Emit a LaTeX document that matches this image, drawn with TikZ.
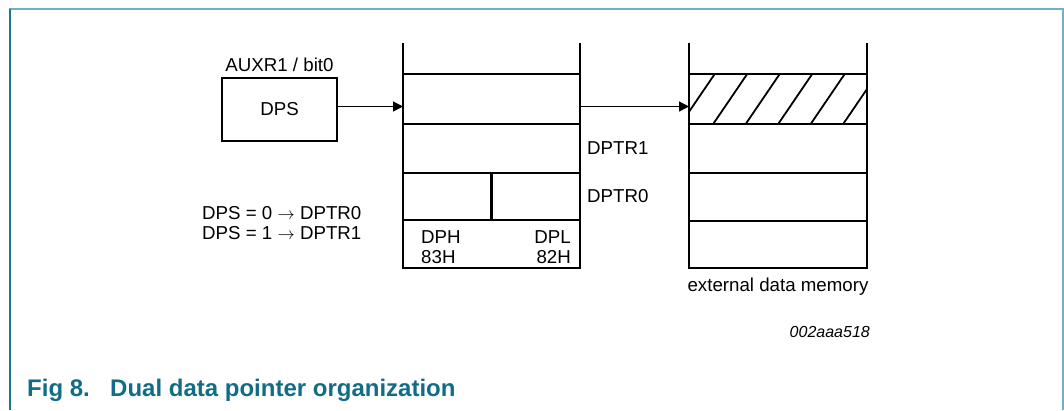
\documentclass[tikz,border=0pt]{standalone}
\usepackage{fontspec}
\setmainfont{Liberation Sans}
\definecolor{figteal}{RGB}{18, 108, 134}
\definecolor{frameteal}{RGB}{112, 178, 196}
\definecolor{edgeteal}{RGB}{30, 118, 142}
\usepackage{tikz}
\usetikzlibrary{arrows.meta, positioning}

\tikzset{
  cell/.style={draw, line width=2.2pt, minimum width=177pt, inner sep=0pt, outer sep=0pt},
  lbl/.style={font=\fontsize{18.7}{20}\selectfont, inner sep=0pt},
  ptr/.style={-{Triangle[length=10pt, width=10pt]}, line width=1.2pt}
}

\begin{document}
\begin{tikzpicture}[x=1pt, y=-1pt]
  \useasboundingbox (0,0) rectangle (1064,410);

  % Frame
  \draw[frameteal, line width=2pt] (9,9) -- (1063,9) -- (1063,410);
  \draw[edgeteal, line width=2pt] (10,9) -- (10,410);

  % === DPS selector ===
  \node[draw, line width=2pt, minimum width=115pt, minimum height=63pt, lbl] (dps) at (279.5,109.5) {DPS};
  \node[lbl, above=5pt of dps] (auxr) {AUXR1 / bit0};

  \node[lbl, anchor=west] (mode0) at (202,213) {DPS = 0 $\rightarrow$ DPTR0};
  \node[lbl, anchor=west] (mode1) at (202,233) {DPS = 1 $\rightarrow$ DPTR1};

  % === Data pointers (left column) ===
  \coordinate (ptop) at (491.5,43);
  \node[cell, minimum height=50pt] (p1) at (491.5,99) {};
  \node[cell, minimum height=49pt] (p2) at (491.5,148.5) {};
  \node[cell, minimum height=47pt] (p3) at (491.5,196.5) {};
  \node[cell, minimum height=48pt] (p4) at (491.5,244) {};
  \draw[line width=2.2pt] (p1.north west) -- (p1.north west |- ptop);
  \draw[line width=2.2pt] (p1.north east) -- (p1.north east |- ptop);
  \draw[line width=2.2pt] (p3.north) -- (p3.south);

  % Byte labels
  \node[lbl, align=left, anchor=west] (dph) at (421,247) {DPH\\83H};
  \node[lbl, align=right, anchor=east] (dpl) at (571,247) {DPL\\82H};

  \node[lbl, right=7pt of p2] (dptr1) {DPTR1};
  \node[lbl, right=7pt of p3] (dptr0) {DPTR0};

  % === External data memory (right column) ===
  \coordinate (mtop) at (778,43);
  \node[cell, minimum width=178pt, minimum height=50pt] (m1) at (778,99) {};
  \node[cell, minimum width=178pt, minimum height=49pt] (m2) at (778,148.5) {};
  \node[cell, minimum width=178pt, minimum height=48pt] (m3) at (778,197) {};
  \node[cell, minimum width=178pt, minimum height=47pt] (m4) at (778,244.5) {};
  \draw[line width=2.2pt] (m1.north west) -- (m1.north west |- mtop);
  \draw[line width=2.2pt] (m1.north east) -- (m1.north east |- mtop);

  % Hatching of the addressed byte
  \begin{scope}
    \clip (m1.south west) rectangle (m1.north east);
    \foreach \x in {680, 712.5, ..., 875}
      \draw[line width=1.8pt] (\x,125) -- ++(34.7,-51);
  \end{scope}

  \node[lbl] (extmem) at (778,287) {external data memory};

  % Arrows
  \coordinate (a1) at ([yshift=3pt]dps.east);
  \draw[ptr] (a1) -- (a1 -| p1.west);
  \draw[ptr] (a1 -| p1.east) -- (a1 -| m1.west);

  % Figure code and caption
  \node[font=\itshape\fontsize{16}{18}\selectfont, inner sep=0pt, anchor=east] (code) at (870,332) {002aaa518};
  \node[font=\bfseries\fontsize{24}{26}\selectfont, text=figteal, inner sep=0pt, anchor=base west] (fignum) at (27,396.5) {Fig 8.};
  \node[font=\bfseries\fontsize{24}{26}\selectfont, text=figteal, inner sep=0pt, anchor=base west] (figtitle) at (110,396.5) {Dual data pointer organization};
\end{tikzpicture}
\end{document}
